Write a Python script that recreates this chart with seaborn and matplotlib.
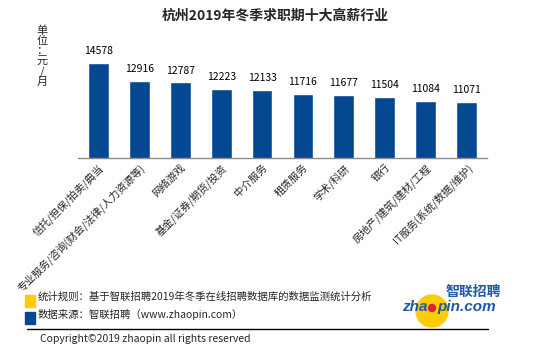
import matplotlib
matplotlib.use("Agg")
import matplotlib.pyplot as plt
from matplotlib.patches import Ellipse, Rectangle
from matplotlib.lines import Line2D
import seaborn as sns
import pandas as pd

# data
industries = [
    "信托/担保/拍卖/典当",
    "专业服务/咨询(财会/法律/人力资源等)",
    "网络游戏",
    "基金/证券/期货/投资",
    "中介服务",
    "租赁服务",
    "学术/科研",
    "银行",
    "房地产/建筑/建材/工程",
    "IT服务(系统/数据/维护)",
]
salaries = [14578, 12916, 12787, 12223, 12133, 11716, 11677, 11504, 11084, 11071]

title = "杭州2019年冬季求职期十大高薪行业"
unit_label = "单位：元/月"
note_rule = "统计规则：基于智联招聘2019年冬季在线招聘数据库的数据监测统计分析"
note_source = "数据来源：智联招聘（www.zhaopin.com）"
copyright_text = "Copyright©2019 zhaopin all rights reserved"

bar_blue = "#054892"
logo_blue = "#1d5aa8"
yellow = "#ffcc00"

df = pd.DataFrame({"industry": industries, "salary": salaries})

sns.set_style("white")
plt.rcParams["font.family"] = ["Noto Sans CJK SC", "DejaVu Sans"]

W, H = 543, 351
fig = plt.figure(figsize=(W / 100, H / 100), dpi=100)
ax = fig.add_axes([78 / W, 1 - 158 / H, 409 / W, 118 / H])

sns.barplot(data=df, x="industry", y="salary", color=bar_blue, width=0.51,
            saturation=1, ax=ax)
ax.bar_label(ax.containers[0], labels=[str(v) for v in salaries],
             padding=5, fontsize=7.5, color="black")

ax.set_ylim(6000, 16600)
ax.set_xlim(-0.5, len(industries) - 0.5)
ax.set_xlabel("")
ax.set_ylabel("")
ax.set_yticks([])
for s in ["top", "right", "left"]:
    ax.spines[s].set_visible(False)
ax.spines["bottom"].set_color("#8c8c8c")
ax.spines["bottom"].set_linewidth(1.0)

ax.set_xticks(range(len(industries)))
ax.set_xticklabels(industries, rotation=45, ha="right", va="top",
                   rotation_mode="anchor", fontsize=7.5)
ax.tick_params(axis="x", which="major", length=0, pad=3)
ax.set_xticks([i - 0.5 for i in range(len(industries) + 1)], minor=True)
ax.tick_params(axis="x", which="minor", length=4, color="#8c8c8c", width=1)

# title and unit
fig.text(275 / W, 1 - 16 / H, title, ha="center", va="center",
         fontsize=10, fontweight="bold")
fig.text(42 / W, 1 - 56 / H, "\n".join(list(unit_label)),
         ha="center", va="center", fontsize=8, linespacing=1.0)

# footer
fig.patches.append(Rectangle((25 / W, 1 - 307 / H), 10 / W, 12 / H,
                             transform=fig.transFigure, color=yellow))
fig.patches.append(Rectangle((25 / W, 1 - 324 / H), 10 / W, 12 / H,
                             transform=fig.transFigure, color=bar_blue))
fig.text(38 / W, 1 - 297 / H, note_rule, ha="left", va="center", fontsize=7.5)
fig.text(38 / W, 1 - 315 / H, note_source, ha="left", va="center", fontsize=7.5)
fig.lines.append(Line2D([27 / W, 488 / W], [1 - 329 / H, 1 - 329 / H],
                        transform=fig.transFigure, color="black", lw=1))
fig.text(40 / W, 1 - 339 / H, copyright_text, ha="left", va="center",
         fontsize=7.5)

# logo
fig.patches.append(Ellipse((432 / W, 1 - 311 / H), 32 / W, 32 / H,
                           transform=fig.transFigure, color=yellow))
fig.text(501 / W, 1 - 292 / H, "智联招聘", ha="right", va="center",
         fontsize=10, fontweight="bold", style="italic", color=logo_blue)
fig.text(428 / W, 1 - 307 / H, "zha", ha="right", va="center",
         fontsize=11, fontweight="bold", style="italic", color=logo_blue,
         family=["Liberation Sans"])
fig.text(437 / W, 1 - 307 / H, "pin.com", ha="left", va="center",
         fontsize=11, fontweight="bold", style="italic", color=logo_blue,
         family=["Liberation Sans"])
fig.patches.append(Ellipse((432 / W, 1 - 308 / H), 7 / W, 7 / H,
                           transform=fig.transFigure, color="#d8262e"))

fig.savefig("out.png", dpi=100)
